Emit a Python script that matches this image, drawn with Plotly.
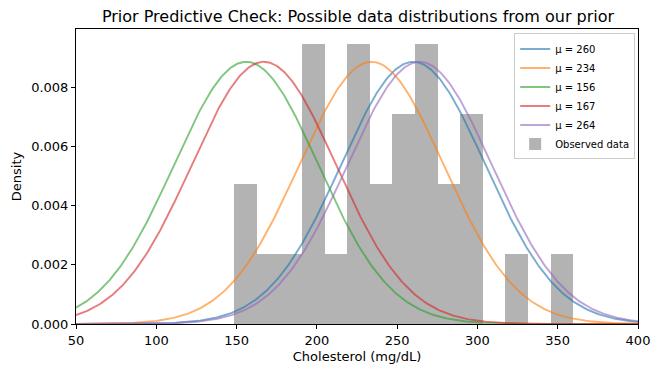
import numpy as np
import plotly.graph_objects as go

# Prior draws of the mean (sigma shared)
mus = [260, 234, 156, 167, 264]
sigma = 45.0
colors = ["#1f77b4", "#ff7f0e", "#2ca02c", "#d62728", "#9467bd"]

# Observed data histogram (density), 15 equal bins
bin_start = 148.6
bin_width = 14.07
densities = [0.00474, 0.00237, 0.00237, 0.00948, 0.00237, 0.00948, 0.00474,
             0.00711, 0.00948, 0.00474, 0.00711, 0.0, 0.00237, 0.0, 0.00237]

x_range = [50, 400]
y_ticks = [0.000, 0.002, 0.004, 0.006, 0.008]

fig = go.Figure()

centers = [bin_start + bin_width * (i + 0.5) for i in range(len(densities))]
fig.add_trace(go.Bar(
    x=centers, y=densities, width=[bin_width] * len(densities),
    marker=dict(color="rgba(128,128,128,0.6)", line=dict(width=0)),
    name="Observed data", legendrank=1000,
))

xs = np.linspace(x_range[0], x_range[1], 400)
for i, (mu, c) in enumerate(zip(mus, colors)):
    ys = np.exp(-0.5 * ((xs - mu) / sigma) ** 2) / (sigma * np.sqrt(2 * np.pi))
    fig.add_trace(go.Scatter(
        x=xs, y=ys, mode="lines", name=f"μ = {mu}",
        line=dict(color=c, width=1.9), opacity=0.6, legendrank=i + 1,
    ))

font = "DejaVu Sans"
fig.update_layout(
    width=662, height=374,
    margin=dict(l=76, r=22, t=29, b=50),
    paper_bgcolor="white", plot_bgcolor="white",
    font=dict(family=font, size=13, color="black"),
    title=dict(text="Prior Predictive Check: Possible data distributions from our prior",
               x=358 / 662, xanchor="center", y=1 - 16 / 374, yanchor="middle",
               yref="container", font=dict(size=16)),
    bargap=0, showlegend=True,
    legend=dict(x=0.995, y=0.985, xanchor="right", yanchor="top",
                bgcolor="rgba(255,255,255,0.8)", bordercolor="#cccccc", borderwidth=1,
                font=dict(size=10), traceorder="normal", tracegroupgap=0),
)
fig.update_xaxes(range=x_range, dtick=50, tick0=50, showline=True, linecolor="black",
                 linewidth=1, mirror=True, ticks="outside", ticklen=4, tickcolor="black",
                 showgrid=False, zeroline=False,
                 title=dict(text="Cholesterol (mg/dL)", standoff=5, font=dict(size=13)))
fig.update_yaxes(range=[0, 0.009975], tickvals=y_ticks, tickformat=".3f", showline=True,
                 linecolor="black", linewidth=1, mirror=True, ticks="outside", ticklen=4,
                 tickcolor="black", showgrid=False, zeroline=False,
                 title=dict(text="Density", standoff=6, font=dict(size=13)))

fig.write_html("out.html", config={"displayModeBar": False},
               post_script="document.body.style.margin='0px';document.body.style.overflow='hidden';")
